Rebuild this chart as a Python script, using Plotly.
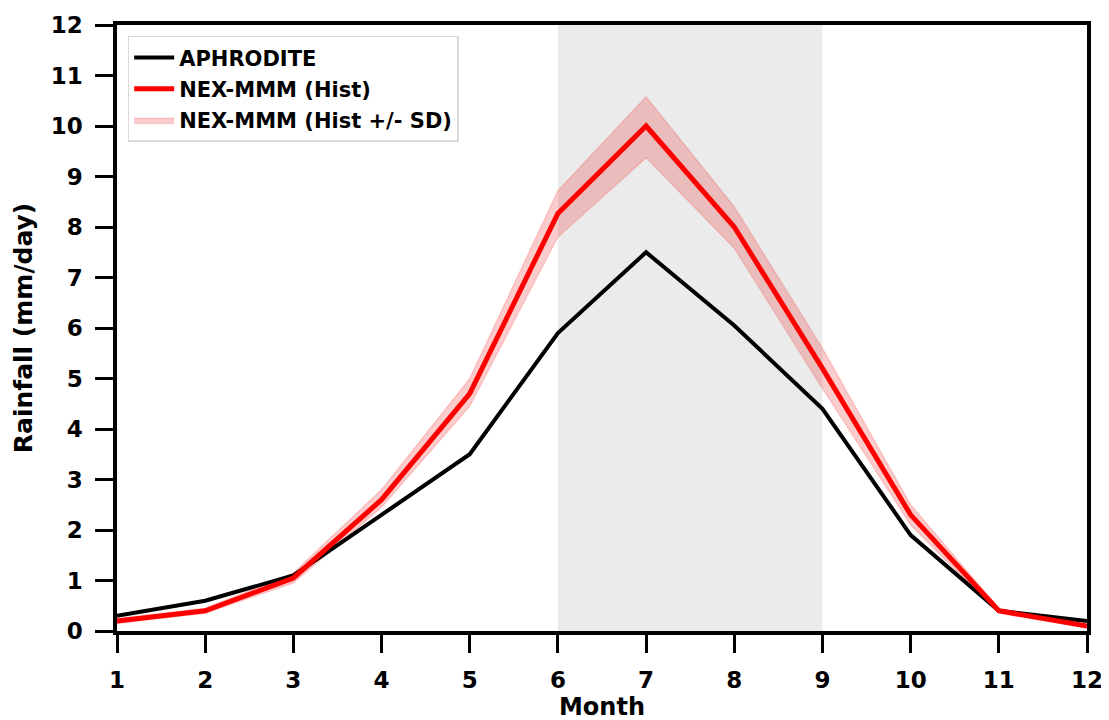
import plotly.graph_objects as go

months = list(range(1, 13))
aphrodite = [0.3, 0.6, 1.1, 2.3, 3.5, 5.9, 7.5, 6.05, 4.4, 1.9, 0.4, 0.2]
nex_hist = [0.2, 0.4, 1.05, 2.6, 4.7, 8.27, 10.0, 8.0, 5.2, 2.3, 0.4, 0.1]
nex_upper = [0.25, 0.45, 1.15, 2.8, 5.0, 8.72, 10.58, 8.4, 5.6, 2.5, 0.45, 0.13]
nex_lower = [0.15, 0.35, 0.95, 2.45, 4.45, 7.8, 9.37, 7.58, 4.8, 2.1, 0.35, 0.07]
shade_start, shade_end = 6, 9

FONT = "DejaVu Sans"
fig = go.Figure()

fig.add_shape(type="rect", xref="x", yref="paper", x0=shade_start, x1=shade_end, y0=0, y1=1,
              fillcolor="#ebebeb", line_width=0, layer="below")

fig.add_trace(go.Scatter(x=months, y=nex_lower, mode="lines",
                         line=dict(color="rgba(255,0,0,0.15)", width=1.5),
                         showlegend=False, hoverinfo="skip"))
fig.add_trace(go.Scatter(x=months, y=nex_upper, mode="lines", fill="tonexty",
                         fillcolor="rgba(230,0,0,0.2)",
                         line=dict(color="rgba(255,0,0,0.15)", width=1.5),
                         name="NEX-MMM (Hist +/- SD)", legendrank=3, legendgroup="c"))
fig.add_trace(go.Scatter(x=months, y=aphrodite, mode="lines",
                         line=dict(color="black", width=4), name="APHRODITE", legendrank=1, legendgroup="a"))
fig.add_trace(go.Scatter(x=months, y=nex_hist, mode="lines",
                         line=dict(color="red", width=5), name="NEX-MMM (Hist)", legendrank=2, legendgroup="b"))

axis_common = dict(showline=True, linecolor="black", linewidth=3.5, mirror=True,
                   ticks="outside", ticklen=18, tickwidth=3, tickcolor="black",
                   showgrid=False, zeroline=False, automargin=False,
                   tickfont=dict(family=FONT, size=23, color="black", weight="bold"))

fig.update_layout(
    width=1109, height=720,
    margin=dict(l=109, r=30, t=17, b=97),
    plot_bgcolor="white", paper_bgcolor="white",
    font=dict(family=FONT, color="black"),
    xaxis=dict(range=[1, 12], tickvals=months, ticklabelstandoff=8, **axis_common,
               title=dict(text="Month", font=dict(family=FONT, size=24, weight="bold"), standoff=0)),
    yaxis=dict(range=[0, 12], tickvals=list(range(0, 13)), ticklabelstandoff=8, **axis_common,
               title=dict(text="Rainfall (mm/day)", font=dict(family=FONT, size=25, weight="bold"), standoff=12)),
    legend=dict(x=0.011, y=0.982, xanchor="left", yanchor="top",
                bgcolor="rgba(255,255,255,0.85)", bordercolor="#d9d9d9", borderwidth=1.5,
                font=dict(family=FONT, size=21, color="black", weight="bold"),
                traceorder="grouped", tracegroupgap=1, itemwidth=40),
)

fig.write_html("out.html")
